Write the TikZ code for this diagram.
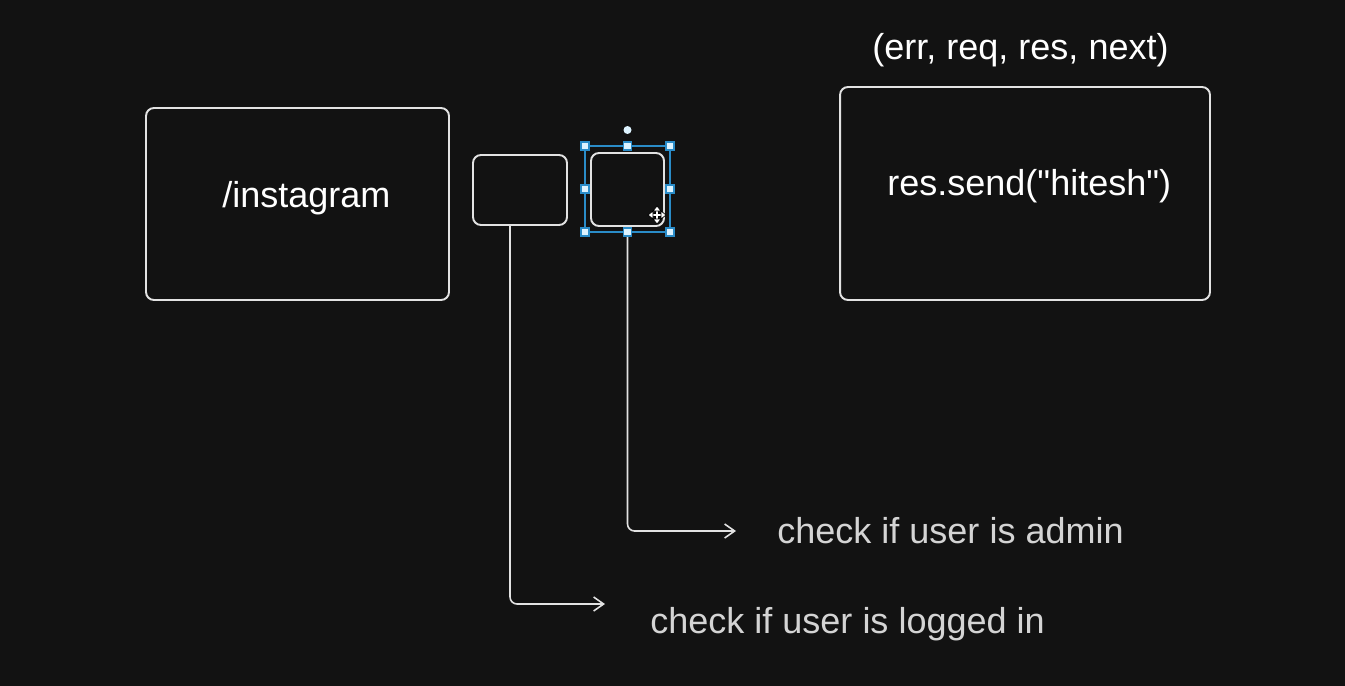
\documentclass[tikz,border=0pt]{standalone}
\usepackage{fontspec}
\setmainfont{Liberation Sans}[Ligatures=TeXOff]
\usetikzlibrary{arrows.meta}
\definecolor{bgdark}{HTML}{121212}
\definecolor{inkline}{HTML}{E2E2E2}
\definecolor{inkgray}{HTML}{D4D4D4}
\definecolor{selblue}{HTML}{2A8CC8}
\definecolor{selfill}{HTML}{DDF3FF}
\begin{document}
\begin{tikzpicture}[x=0.02cm, y=-0.02cm,
    box/.style={draw=inkline, line width=1.1pt, rounded corners=4.5pt, inner sep=0pt},
    txt/.style={inner sep=0pt, anchor=base west, text=white, font=\fontsize{20.5}{24}\selectfont},
    note/.style={txt, text=inkgray},
    link/.style={draw=inkline, line width=0.9pt, rounded corners=4pt, -{Straight Barb[length=2mm, width=2.8mm]}},
    handle/.style={draw=selblue, fill=selfill, line width=0.6pt, minimum size=0.16cm, inner sep=0pt}]
        % Background
    \fill[bgdark] (0,0) rectangle (1345,686);
    \useasboundingbox (0,0) rectangle (1345,686);

        % Draw the boxes
    \node[box, minimum width=6.06cm, minimum height=3.84cm] (route) at (297.5,204) {};
    \node[box, minimum width=1.88cm, minimum height=1.40cm] (auth) at (520,190) {};
    \node[box, minimum width=1.46cm, minimum height=1.46cm] (admin) at (627.5,189.5) {};
    \node[box, minimum width=7.40cm, minimum height=4.26cm] (handler) at (1025,193.5) {};

        % Draw the texts
    \node[txt] (routetxt) at (222,207) {/instagram};
    \node[txt] (handlertxt) at (887,195) {res.send("hitesh")};
    \node[txt] (args) at (872,60) {(err, req, res, next)};
    \node[note] (authtxt) at (650,633) {check if user is logged in};
    \node[note] (admintxt) at (777,543) {check if user is admin};

        % Draw the connectors
    \coordinate (authend) at (605,604);
    \coordinate (adminend) at (736,531);
    \draw[link] ([xshift=-0.2cm]auth.south) |- (authend);
    \draw[link] (admin.south) |- (adminend);

        % Show the selection
    \draw[selblue, line width=0.8pt] (585,146) rectangle (670,232);
    \foreach \hx/\hy in {585/146, 627.5/146, 670/146, 585/189, 670/189, 585/232, 627.5/232, 670/232}
        \node[handle] at (\hx,\hy) {};
    \node[handle, circle, minimum size=0.16cm, draw=none, fill=selfill] (rotate) at (627.5,130) {};

        % Move cursor
    \begin{scope}[shift={(657,215)}]
        \draw[black, line width=2.2pt] (-7,0) -- (7,0) (0,-7) -- (0,7);
        \draw[white, line width=1pt] (-7,0) -- (7,0) (0,-7) -- (0,7);
        \foreach \r in {0,90,180,270}
            \filldraw[white, draw=black, line width=0.4pt, rotate=\r] (9,0) -- (4,-4) -- (4,4) -- cycle;
    \end{scope}
\end{tikzpicture}
\end{document}
